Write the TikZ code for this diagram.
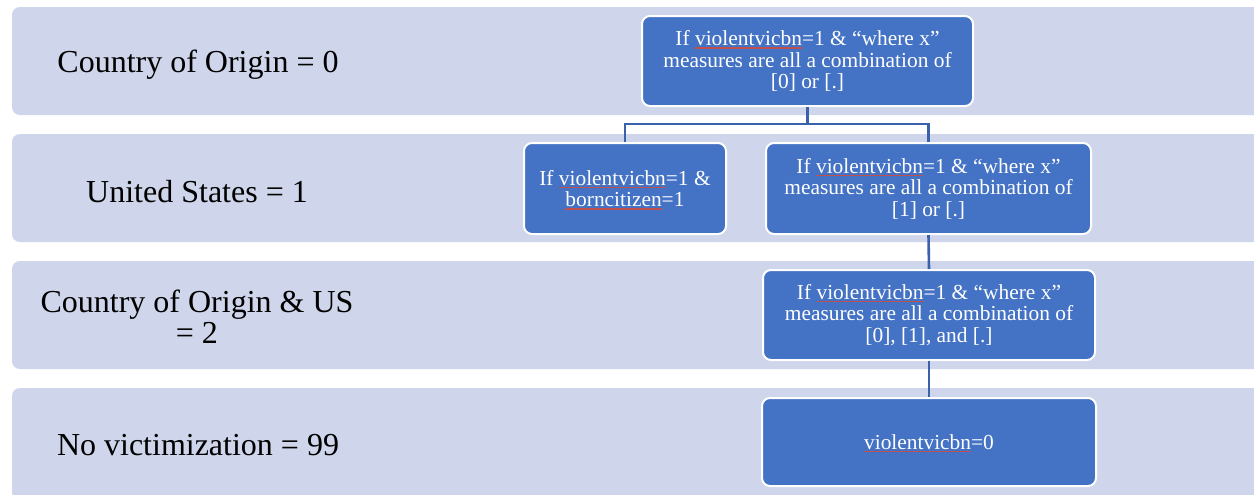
\documentclass[tikz,border=0pt]{standalone}
\usepackage{fontspec}
\setmainfont{Liberation Serif}
\usetikzlibrary{calc}
\definecolor{bandfill}{HTML}{CFD5EA}
\definecolor{boxfill}{HTML}{4472C4}
\definecolor{linkblue}{HTML}{3A62AA}
\definecolor{spellred}{HTML}{C0504D}
\newsavebox\spellbox
\def\spell#1{\sbox\spellbox{#1}\rlap{\tikz[overlay]\fill[spellred, draw=none, sharp corners] (0pt,-1.5pt) rectangle (\wd\spellbox,-0.8pt);}\usebox\spellbox}
\tikzset{
	band/.style={fill=bandfill, rounded corners=4pt},
	bandlabel/.style={align=center, font=\fontsize{16}{15.5}\selectfont, inner sep=0pt},
	stepbox/.style={draw=white, line width=1pt, fill=boxfill, rounded corners=4pt, align=center,
		text=white, font=\fontsize{10.7}{10.8}\selectfont, inner sep=0pt},
	link/.style={draw=linkblue, line width=1.3pt}
}

\begin{document}
\begin{tikzpicture}[x=0.5pt, y=-0.5pt]
			%%%%% START %%%%%
			\clip (0, 0) rectangle (1254, 494);
			\fill[white] (0, 0) rectangle (1254, 494);
			
			\fill[band] (12, 7) rectangle (1275, 115);
			\fill[band] (12, 134) rectangle (1275, 242);
			\fill[band] (12, 261) rectangle (1275, 369);
			\fill[band] (12, 388) rectangle (1275, 500);
			
			\node[bandlabel] (lab0) at (198, 65) {Country of Origin = 0};
			\node[bandlabel] (lab1) at (197, 192) {United States = 1};
			\node[bandlabel] (lab2) at (197, 317) {Country of Origin \& US\\= 2};
			\node[bandlabel] (lab99) at (198, 445) {No victimization = 99};
			
			\node[stepbox, minimum width=165.5pt, minimum height=45pt] (top) at (807.5, 61)
				{If \spell{violentvicbn}=1 \& “where x”\\measures are all a combination of\\{}[0] or [.]};
			
			\node[stepbox, minimum width=101pt, minimum height=45.5pt] (born) at (625, 188.5)
				{If \spell{violentvicbn}=1 \&\\\spell{borncitizen}=1};
			\node[stepbox, minimum width=162.5pt, minimum height=45.5pt] (us) at (928.5, 188.5)
				{If \spell{violentvicbn}=1 \& “where x”\\measures are all a combination of\\{}[1] or [.]};
			
			\node[stepbox, minimum width=166pt, minimum height=45pt] (both) at (929, 315)
				{If \spell{violentvicbn}=1 \& “where x”\\measures are all a combination of\\{}[0], [1], and [.]};
			
			\node[stepbox, minimum width=167pt, minimum height=44pt] (none) at (929, 442)
				{\spell{violentvicbn}=0};
			
			\coordinate (split) at (807.5, 124);
			\draw[link] (top.south) -- (split);
			\draw[link] (born.north) |- (split) -| (us.north);
			\draw[link] (us.south) -- (both.north);
			\draw[link] (both.south) -- (none.north);
			
			%%%%% END %%%%%
\end{tikzpicture}
\end{document}
